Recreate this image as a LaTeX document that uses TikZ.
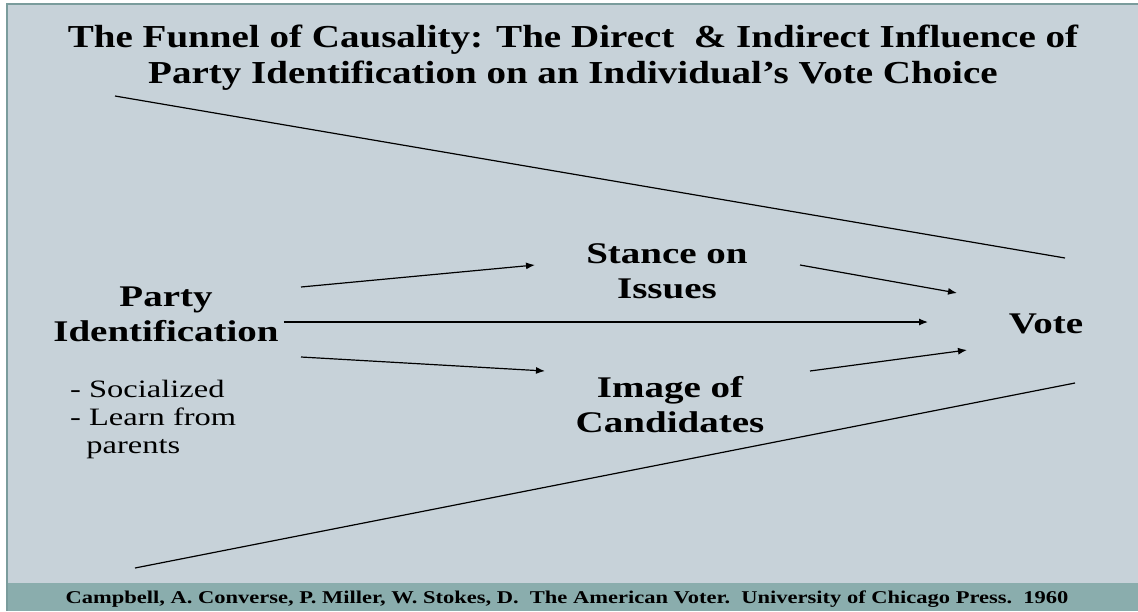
\documentclass[tikz,border=0pt]{standalone}
\usepackage{fontspec}
\usetikzlibrary{arrows.meta}
\setmainfont{Liberation Serif}[FakeStretch=1.3]
\newfontfamily\titlefont{Liberation Serif}[FakeStretch=1.22]
\newfontfamily\citefont{Liberation Serif}[FakeStretch=1.25]
\definecolor{slidebg}{HTML}{C7D2D9}
\definecolor{stripbg}{HTML}{8AADAD}
\definecolor{rim}{HTML}{7A9C9C}
\tikzset{
  lbl/.style={font=\fontsize{30}{35}\selectfont\bfseries, align=center, inner sep=2pt},
  note/.style={font=\fontsize{25}{28}\selectfont, align=left, inner sep=0pt},
  link/.style={-{Latex[length=9pt,width=7pt]}, line width=1.2pt},
}
\begin{document}
\begin{tikzpicture}[x=1pt, y=-1pt]
\useasboundingbox (0,0) rectangle (1138,611);
\fill [white] (0,0) rectangle (1138,611);
\fill [slidebg] (7,4) rectangle (1138,611);
\fill [stripbg] (7,583) rectangle (1138,611);
\draw [rim, line width=1.2pt] (7,611) -- (7,4) -- (1138,4);
\node (title) [font=\titlefont\fontsize{32}{36}\selectfont\bfseries, align=center, anchor=base] at (573,83)
  {The Funnel of Causality: The Direct\ \ \& Indirect Influence of\\Party Identification on an Individual’s Vote Choice};
% the funnel walls
\coordinate (wt1) at (115,96);
\coordinate (wt2) at (1065,258);
\coordinate (wb1) at (135,568);
\coordinate (wb2) at (1075,383);
\draw [line width=1.2pt] (wt1) -- (wt2);
\draw [line width=1.2pt] (wb1) -- (wb2);
\node (party)  [lbl] at (166,314) {Party\\Identification};
\node (stance) [lbl] at (667,271) {Stance on\\Issues};
\node (image)  [lbl] at (670,405) {Image of\\Candidates};
\node (vote)   [lbl, anchor=base] at (1046,333) {Vote};
\node (why) [note, anchor=north west] at (70,380) {- Socialized\\- Learn from\\\ \ parents};
\coordinate (ps1) at (301,287);
\coordinate (ps2) at (535,265);
\coordinate (pv)  at (928,322);
\coordinate (pi1) at (301,357);
\coordinate (pi2) at (545,371);
\coordinate (sv1) at (800,265);
\coordinate (sv2) at (957,293);
\coordinate (iv1) at (810,371);
\coordinate (iv2) at (967,350);
\draw [link] (ps1) -- (ps2);
\draw [link] ([xshift=3pt,yshift=-8pt]party.east) -- (pv);
\draw [link] (pi1) -- (pi2);
\draw [link] (sv1) -- (sv2);
\draw [link] (iv1) -- (iv2);
\node (cite) [font=\citefont\fontsize{18}{20}\selectfont\bfseries, anchor=base] at (567,603)
  {Campbell, A. Converse, P. Miller, W. Stokes, D.\ \ The American Voter.\ \ University of Chicago Press.\ \ 1960};
\end{tikzpicture}
\end{document}
